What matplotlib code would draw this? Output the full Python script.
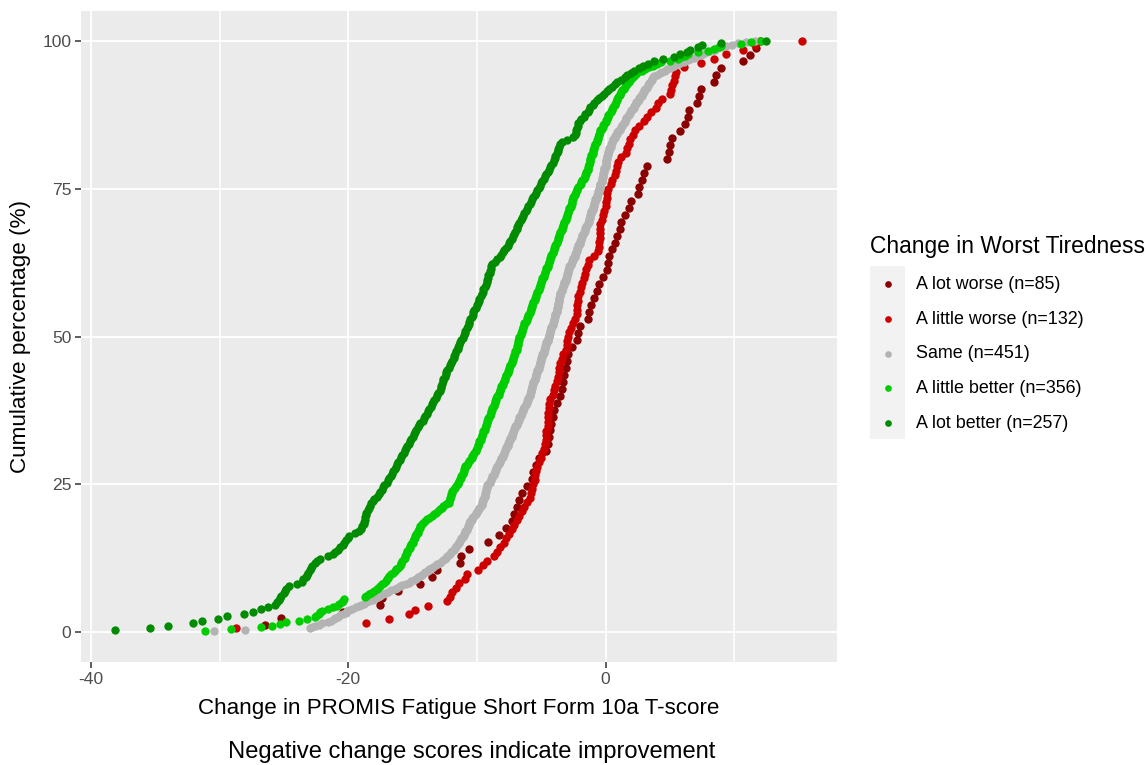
import numpy as np
import matplotlib
matplotlib.use("Agg")
import matplotlib.pyplot as plt
from matplotlib.lines import Line2D
from matplotlib.patches import Rectangle

plt.rcParams['font.family'] = ['Liberation Sans', 'DejaVu Sans']
plt.rcParams['axes.unicode_minus'] = False

# sorted change scores for each tiredness group
a_lot_worse = [
    -26.5, -25.2, -20.4, -17.5, -17.4, -16.1, -14.4, -13.5, -13.1, -11.3,
    -11.2, -10.6, -9.1, -8.3, -7.7, -7.3, -7.1, -6.9, -6.7, -6.5,
    -6.1, -5.7, -5.6, -5.4, -5.2, -4.6, -4.5, -4.4, -4.3, -4.2,
    -4.1, -4.0, -3.8, -3.5, -3.4, -3.3, -3.2, -3.1, -3.0, -2.9,
    -2.6, -2.2, -2.1, -2.0, -1.4, -1.3, -1.1, -0.9, -0.7, -0.5,
    -0.2, 0.1, 0.2, 0.3, 0.5, 0.7, 0.9, 1.1, 1.2, 1.5,
    1.8, 2.0, 2.5, 2.6, 2.8, 3.0, 3.2, 4.8, 4.9, 5.0,
    5.2, 5.8, 6.2, 6.4, 6.5, 7.1, 7.3, 7.4, 8.4, 8.6,
    9.0, 10.7, 11.2, 11.7, 12.0,
]

a_little_worse = [
    -28.7, -18.6, -16.8, -15.3, -14.8, -13.8, -12.3, -12.1, -11.9, -11.6,
    -11.4, -10.9, -10.8, -9.9, -9.5, -9.2, -8.7, -8.4, -8.2, -7.9,
    -7.7, -7.5, -7.3, -7.1, -6.9, -6.7, -6.5, -6.3, -6.1, -5.9,
    -5.8, -5.7, -5.6, -5.5, -5.5, -5.4, -5.3, -5.2, -5.0, -4.9,
    -4.8, -4.7, -4.6, -4.6, -4.6, -4.5, -4.5, -4.5, -4.5, -4.4,
    -4.4, -4.3, -4.1, -4.0, -3.9, -3.8, -3.7, -3.6, -3.6, -3.5,
    -3.4, -3.3, -3.1, -3.0, -3.0, -2.9, -2.8, -2.7, -2.5, -2.4,
    -2.2, -2.2, -2.2, -2.1, -2.1, -2.0, -1.9, -1.8, -1.7, -1.6,
    -1.5, -1.4, -1.3, -0.9, -0.6, -0.5, -0.5, -0.4, -0.4, -0.4,
    -0.4, -0.3, -0.2, -0.1, 0.0, 0.0, 0.1, 0.1, 0.2, 0.4,
    0.5, 0.7, 0.8, 0.9, 1.0, 1.2, 1.6, 1.7, 1.8, 1.9,
    2.1, 2.3, 2.6, 3.0, 3.2, 3.5, 3.9, 4.1, 4.4, 5.0,
    5.1, 5.2, 5.3, 5.4, 5.5, 6.1, 7.4, 8.4, 9.4, 10.7,
    11.6, 15.3,
]

same = [
    -30.4, -28.0, -23.0, -22.8, -22.6, -22.3, -22.0, -21.6, -21.3,
    -21.1, -21.0, -20.8, -20.6, -20.4, -20.2, -20.1,
    -19.9, -19.7, -19.4, -19.2, -19.0, -18.8,
    -18.6, -18.4, -18.1, -17.9, -17.7, -17.5,
    -17.3, -17.1, -16.9, -16.7, -16.4, -16.2, -16.0,
    -15.8, -15.5, -15.3, -15.1, -14.9, -14.7,
    -14.6, -14.4, -14.3, -14.1, -14.0, -13.8, -13.7, -13.5, -13.4,
    -13.2, -13.1, -12.9, -12.8, -12.6, -12.5,
    -12.4, -12.3, -12.2, -12.1, -12.0, -11.9, -11.8, -11.7,
    -11.6, -11.6, -11.5, -11.4, -11.4, -11.3, -11.2, -11.2, -11.1, -11.0, -11.0, -10.9, -10.9,
    -10.8, -10.8, -10.7, -10.7, -10.6, -10.6, -10.5, -10.5, -10.4, -10.4, -10.3,
    -10.2, -10.1, -10.1, -10.0, -9.9, -9.8, -9.8, -9.7, -9.6,
    -9.6, -9.6, -9.5, -9.5, -9.5, -9.4, -9.4, -9.4, -9.4, -9.3, -9.3, -9.3, -9.2, -9.2, -9.2,
    -9.1, -9.0, -9.0, -8.9, -8.9, -8.8, -8.8, -8.7, -8.7, -8.6, -8.6, -8.5, -8.5, -8.4, -8.4,
    -8.3, -8.3, -8.2, -8.2, -8.1, -8.1, -8.0, -8.0, -7.9, -7.9, -7.8, -7.8, -7.7,
    -7.7, -7.6, -7.6, -7.6, -7.5, -7.5, -7.4, -7.4, -7.3, -7.3,
    -7.3, -7.2, -7.2, -7.1, -7.1, -7.0, -7.0, -6.9, -6.9, -6.8, -6.8, -6.7, -6.7,
    -6.7, -6.6, -6.6, -6.5, -6.5, -6.4, -6.4, -6.3, -6.3, -6.2, -6.2, -6.1,
    -6.1, -6.0, -6.0, -6.0, -5.9, -5.9, -5.9, -5.8, -5.8, -5.8, -5.7, -5.7, -5.7,
    -5.6, -5.6, -5.6, -5.5, -5.5, -5.5, -5.4, -5.4, -5.4, -5.3, -5.3, -5.3,
    -5.2, -5.2, -5.2, -5.1, -5.1,
    -5.1, -5.0, -5.0, -5.0, -4.9, -4.9, -4.9, -4.8, -4.8, -4.8, -4.7, -4.7, -4.7,
    -4.6, -4.6, -4.6, -4.5, -4.5, -4.5, -4.4, -4.4, -4.4, -4.3, -4.3, -4.3,
    -4.2, -4.2, -4.2, -4.1, -4.1, -4.1, -4.0, -4.0, -4.0,
    -3.9, -3.9, -3.9, -3.9, -3.8, -3.8, -3.8, -3.8, -3.7, -3.7, -3.7, -3.7,
    -3.6, -3.6, -3.6, -3.6, -3.5, -3.5, -3.5, -3.5, -3.4, -3.4, -3.4, -3.3, -3.3,
    -3.2, -3.2, -3.2, -3.1, -3.1, -3.1, -3.0, -3.0, -3.0, -2.9, -2.9, -2.9,
    -2.8, -2.8, -2.8, -2.7, -2.7, -2.6, -2.6, -2.5, -2.5,
    -2.4, -2.4, -2.4, -2.3, -2.3, -2.2, -2.2, -2.2, -2.1, -2.1, -2.0, -2.0, -2.0,
    -1.9, -1.9, -1.8, -1.8, -1.8, -1.7, -1.7, -1.6, -1.6, -1.6, -1.5, -1.5, -1.4, -1.4,
    -1.3, -1.3, -1.3, -1.2, -1.2, -1.2, -1.1, -1.1, -1.1, -1.0, -1.0, -1.0,
    -0.9, -0.9, -0.9, -0.8, -0.8, -0.8, -0.7, -0.7, -0.7, -0.6, -0.6, -0.6,
    -0.5, -0.5, -0.4, -0.4,
    -0.4, -0.4, -0.3, -0.3, -0.3, -0.3, -0.2, -0.2, -0.2, -0.2,
    -0.1, -0.1, -0.1, -0.1, 0.0, 0.0, 0.0, 0.0,
    0.0, 0.0, 0.1, 0.1, 0.1, 0.2, 0.2, 0.2, 0.3, 0.3, 0.3,
    0.4, 0.4, 0.4, 0.5, 0.5, 0.6, 0.6,
    0.7, 0.7, 0.8, 0.9, 0.9, 1.0, 1.1, 1.1, 1.2, 1.3, 1.3, 1.4, 1.5, 1.5, 1.6, 1.6, 1.7,
    1.8, 1.8, 1.9, 2.0, 2.0, 2.1, 2.2, 2.2, 2.3, 2.4, 2.4, 2.5, 2.6, 2.6, 2.7,
    2.8, 2.8, 2.9, 3.0, 3.0, 3.1, 3.2, 3.2, 3.3, 3.4, 3.4, 3.5, 3.6, 3.6, 3.7, 3.8,
    4.0, 4.2, 4.4, 4.6, 4.8, 5.0, 5.2, 5.3,
    5.6, 5.8, 6.1, 6.4, 6.6, 6.9, 7.1,
    7.4, 7.6, 7.9, 8.2, 8.5, 8.7, 9.0,
    9.4, 9.8, 10.3, 10.9, 11.6,
]

a_little_better = [
    -31.1, -29.1, -26.8, -25.9, -25.3, -24.8, -23.8, -23.2, -22.6, -22.5,
    -22.3, -22.2, -22.0, -21.6, -21.2, -20.9, -20.7, -20.5, -20.4, -20.3,
    -18.7, -18.6, -18.4, -18.2, -18.0, -17.8, -17.7, -17.5, -17.4, -17.2,
    -17.1, -17.0, -16.9, -16.8,
    -16.7, -16.5, -16.4, -16.3, -16.1, -16.0,
    -15.9, -15.9, -15.8, -15.7, -15.6, -15.6, -15.5, -15.4, -15.4, -15.3,
    -15.2, -15.2, -15.1, -15.0, -15.0, -14.9,
    -14.8, -14.8, -14.7, -14.6, -14.6, -14.5, -14.4, -14.4, -14.3, -14.2,
    -14.0, -13.9, -13.7, -13.5, -13.3,
    -13.2, -13.0, -12.9, -12.7, -12.6, -12.4, -12.2,
    -12.2, -12.1, -12.1, -12.0, -12.0, -11.9, -11.9, -11.8,
    -11.7, -11.6, -11.5, -11.5, -11.4, -11.3,
    -11.2, -11.2, -11.1, -11.1, -11.0, -11.0, -10.9, -10.9, -10.8, -10.7,
    -10.6, -10.5, -10.4, -10.4, -10.3, -10.2, -10.1, -10.1, -10.0, -9.9,
    -9.9, -9.8, -9.8, -9.7, -9.7, -9.6, -9.6, -9.5, -9.5, -9.4, -9.4, -9.3, -9.3, -9.2,
    -9.2, -9.1, -9.1, -9.0, -9.0, -8.9, -8.9, -8.8, -8.8, -8.7, -8.7, -8.6, -8.6, -8.5, -8.5, -8.4,
    -8.3, -8.3, -8.2, -8.2, -8.1, -8.1, -8.0, -8.0, -7.9, -7.8, -7.8, -7.7,
    -7.7, -7.6, -7.6, -7.5, -7.5, -7.4, -7.4, -7.3, -7.3, -7.2, -7.2, -7.1, -7.1, -7.0, -7.0, -6.9,
    -6.9, -6.9, -6.8, -6.8, -6.8, -6.7, -6.7, -6.7, -6.6, -6.6, -6.5, -6.5, -6.4, -6.4,
    -6.3, -6.3, -6.2, -6.1, -6.1, -6.0, -6.0, -5.9, -5.9, -5.8,
    -5.8, -5.7, -5.7, -5.6, -5.6, -5.5, -5.5, -5.4, -5.4, -5.3,
    -5.3, -5.2, -5.2, -5.1, -5.1, -5.0, -5.0, -4.9, -4.9, -4.8,
    -4.8, -4.7, -4.7, -4.6, -4.6, -4.5, -4.5, -4.4, -4.4, -4.3,
    -4.3, -4.2, -4.2, -4.1, -4.1, -4.0, -4.0, -3.9, -3.9, -3.8, -3.8, -3.7, -3.7, -3.6, -3.6, -3.5,
    -3.5, -3.4, -3.4, -3.3, -3.3, -3.2, -3.2, -3.1, -3.1, -3.0, -3.0, -2.9, -2.9, -2.8, -2.8, -2.7,
    -2.7, -2.6, -2.6, -2.6, -2.5, -2.5, -2.4, -2.4,
    -2.3, -2.2, -2.2, -2.1, -2.0, -1.9, -1.9, -1.8, -1.7, -1.6, -1.6, -1.5,
    -1.5, -1.4, -1.4, -1.4, -1.3, -1.3, -1.2, -1.2, -1.2, -1.1, -1.1, -1.0, -1.0, -1.0, -0.9, -0.9,
    -0.8, -0.8, -0.7, -0.7, -0.6, -0.6, -0.5, -0.5, -0.4, -0.4,
    -0.3, -0.2, -0.2, -0.1, 0.0, 0.0, 0.1, 0.2, 0.2, 0.3, 0.4,
    0.5, 0.5, 0.6, 0.7, 0.7, 0.8, 0.9, 0.9, 1.0, 1.1, 1.1, 1.2,
    1.3, 1.4, 1.5, 1.6, 1.7, 1.8, 1.9,
    2.0, 2.1, 2.2, 2.4, 2.5,
    2.8, 3.1, 3.4, 3.7, 4.0, 4.3,
    5.0, 5.6, 5.9, 6.2, 6.4, 7.2, 8.0, 8.4, 8.8, 9.0, 10.5, 11.3, 12.1,
]

a_lot_better = [
    -38.1, -35.4, -34.0, -32.1, -31.4, -30.1, -29.4, -28.1, -27.4, -26.8,
    -26.2, -25.7, -25.5,
    -25.4, -25.3, -25.2, -25.0, -24.9, -24.8, -24.6, -24.0, -23.6, -23.5,
    -23.3, -23.2, -23.1, -23.0, -22.9, -22.8, -22.6, -22.4, -22.2, -21.6,
    -21.2, -21.0, -20.8, -20.6, -20.4, -20.3, -20.2, -20.0, -19.9, -19.5,
    -19.2, -19.0, -18.9, -18.8, -18.8, -18.7, -18.7, -18.6, -18.6, -18.5,
    -18.4, -18.3, -18.2, -18.1, -18.0, -17.8, -17.6, -17.5, -17.4, -17.3,
    -17.2, -17.0, -16.9, -16.8,
    -16.7, -16.6, -16.5, -16.4, -16.3, -16.2, -16.1, -16.0, -15.9, -15.8, -15.7,
    -15.6, -15.5, -15.4, -15.3, -15.2, -15.1, -15.0, -14.9, -14.8, -14.7,
    -14.6, -14.5, -14.4, -14.2, -14.1, -14.0, -13.9, -13.8, -13.7, -13.6,
    -13.5, -13.4, -13.3, -13.2, -13.1, -13.0, -12.9,
    -12.8, -12.8, -12.7, -12.6, -12.6, -12.5, -12.4, -12.4, -12.3, -12.2, -12.1,
    -12.0, -11.9, -11.8, -11.8, -11.7, -11.6, -11.5, -11.5, -11.4, -11.3, -11.2, -11.1,
    -11.0, -10.9, -10.9, -10.8, -10.7, -10.6, -10.6, -10.5, -10.4, -10.3, -10.3, -10.2, -10.1, -10.0,
    -9.9, -9.8, -9.8, -9.7, -9.6, -9.5, -9.5, -9.4, -9.3, -9.2,
    -9.2, -9.1, -9.1, -9.0, -9.0, -8.9, -8.9, -8.8,
    -8.6, -8.4, -8.2, -8.1, -8.0, -7.9, -7.7,
    -7.6, -7.5, -7.4, -7.3, -7.2, -7.1, -7.0, -6.9, -6.9, -6.8, -6.7, -6.6,
    -6.5, -6.4, -6.3, -6.2, -6.1, -6.0, -5.9, -5.8, -5.7, -5.6, -5.5, -5.4, -5.3, -5.2, -5.1,
    -5.0, -4.9, -4.8, -4.7, -4.6, -4.5, -4.4, -4.3, -4.2, -4.1, -4.0,
    -3.9, -3.9, -3.8, -3.7, -3.7, -3.6, -3.5, -3.4,
    -3.0, -2.5,
    -2.4, -2.3, -2.3, -2.2, -2.1, -2.1, -2.0, -1.9,
    -1.7, -1.6, -1.4, -1.3, -1.2, -1.0, -0.9,
    -0.7, -0.5, -0.3, -0.1, 0.1,
    0.3, 0.5, 0.7, 0.9,
    1.2, 1.5, 1.7, 2.0, 2.2,
    2.6, 2.9, 3.3, 3.8,
    4.5, 5.3, 5.8, 6.3, 6.6, 7.2, 7.5, 9.0, 12.5,
]

group_names = ["A lot worse", "A little worse", "Same", "A little better", "A lot better"]
group_values = [a_lot_worse, a_little_worse, same, a_little_better, a_lot_better]
group_colors = ["#8B0000", "#CD0000", "#B3B3B3", "#00CD00", "#008B00"]

fig = plt.figure(figsize=(11.48, 7.65), dpi=100)
ax = fig.add_axes([81 / 1148, 1 - 662 / 765, (836.7 - 81) / 1148, (662 - 11) / 765])
ax.set_facecolor("#EBEBEB")
for s in ax.spines.values():
    s.set_visible(False)

# grid lines: every 10 on x, every 25 on y
for gx in [-40, -30, -20, -10, 0, 10]:
    ax.axvline(gx, color="white", lw=1.3 if gx % 20 == 0 else 1.1, zorder=0)
for gy in [0, 25, 50, 75, 100]:
    ax.axhline(gy, color="white", lw=1.3, zorder=0)

# empirical cumulative distribution for each group
for name, vals, col in zip(group_names, group_values, group_colors):
    x = np.sort(np.array(vals))
    y = np.arange(1, len(x) + 1) / len(x) * 100
    ax.plot(x, y, "o", color=col, ms=6.0, mew=0, zorder=3)

all_x = np.concatenate([np.array(v) for v in group_values])
xr = all_x.max() - all_x.min()
ax.set_xlim(all_x.min() - 0.05 * xr, all_x.max() + 0.05 * xr)
ax.set_ylim(-5, 105)

ax.set_xticks([-40, -20, 0])
ax.set_yticks([0, 25, 50, 75, 100])
ax.tick_params(length=4, width=1.1, color="#333333", labelcolor="#4D4D4D",
               labelsize=12.6, pad=3)

ax.set_xlabel("Change in PROMIS Fatigue Short Form 10a T-score", fontsize=16.1, labelpad=8)
ax.set_ylabel("Cumulative percentage (%)", fontsize=16.2, labelpad=8)
fig.text(472 / 1148, 1 - 752 / 765, "Negative change scores indicate improvement",
         fontsize=17.1, ha="center", va="center")

# legend
fig.text(870 / 1148, 1 - 246 / 765, "Change in Worst Tiredness", fontsize=16.4,
         ha="left", va="center")
key_top, key_h = 266, 34.7
fig.add_artist(Rectangle((870 / 1148, 1 - (key_top + 5 * key_h) / 765), 35 / 1148,
                         5 * key_h / 765, transform=fig.transFigure,
                         facecolor="#F2F2F2", edgecolor="none"))
for k, (name, vals, col) in enumerate(zip(group_names, group_values, group_colors)):
    yc = 1 - (key_top + (k + 0.5) * key_h + 1) / 765
    fig.add_artist(Line2D([887.5 / 1148], [yc], marker="o", color=col, ms=4.8, mew=0,
                          transform=fig.transFigure))
    fig.text(916 / 1148, yc, f"{name} (n={len(vals)})", fontsize=12.9,
             ha="left", va="center")

fig.savefig("out.png", dpi=100)
